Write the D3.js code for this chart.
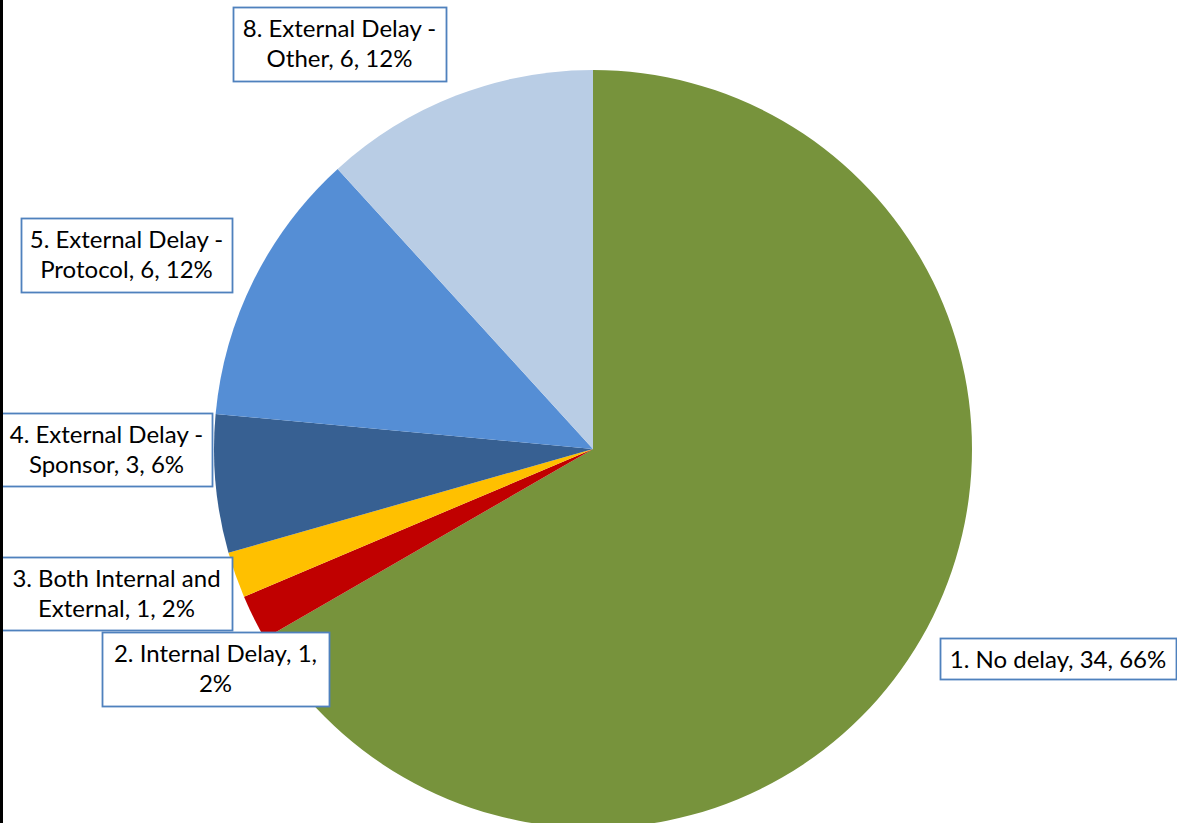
<!DOCTYPE html>
<html>
<head>
<meta charset="utf-8">
<script src="https://cdn.jsdelivr.net/npm/d3@7"></script>
<style>
  html, body { margin: 0; padding: 0; background: #fff; overflow: hidden; }
  svg { display: block; }
</style>
</head>
<body>
<div id="chart_area"></div>
<script>
// data
var categories = ["1. No delay", "2. Internal Delay", "3. Both Internal and External",
    "4. External Delay - Sponsor", "5. External Delay - Protocol", "8. External Delay - Other"];
var counts = [34, 1, 1, 3, 6, 6];
var percentLabels = ["66%", "2%", "2%", "6%", "12%", "12%"];
// label text lines as Excel wrapped them
var labelLines = [
    ["1. No delay, 34, 66%"],
    ["2. Internal Delay, 1,", "2%"],
    ["3. Both Internal and", "External, 1, 2%"],
    ["4. External Delay -", "Sponsor, 3, 6%"],
    ["5. External Delay -", "Protocol, 6, 12%"],
    ["8. External Delay -", "Other, 6, 12%"]
];
var sliceColors = ["#77933C", "#C00000", "#FFC000", "#376092", "#558ED5", "#B9CDE5"];

var width = 1177, height = 823;
var cx = 593, cy = 449, radius = 379;

// label box placement [left, top, width, height]
var boxes = [
    [940, 638, 236, 41],
    [102, 632, 227, 74],
    [1, 557, 231, 73],
    [1, 413, 211, 73],
    [21, 218, 211, 74],
    [233, 7, 213, 74]
];

var svg = d3.select("#chart_area")
    .append("svg")
    .attr("width", width)
    .attr("height", height);

var pie = d3.pie().sort(null).value(function (d) { return d; });
var arc = d3.arc().innerRadius(0).outerRadius(radius);

var table = categories.map(function (c, i) {
    return { name: c, count: counts[i], pct: percentLabels[i], lines: labelLines[i], box: boxes[i] };
});

svg.append("g")
    .attr("transform", "translate(" + cx + "," + cy + ")")
    .selectAll("path")
    .data(pie(counts))
    .enter().append("path")
    .attr("d", arc)
    .style("fill", function (d, i) { return sliceColors[i]; });

var labels = svg.append("g")
    .selectAll("g")
    .data(table)
    .enter().append("g");

labels.append("rect")
    .attr("x", function (d) { return d.box[0] + 0.5; })
    .attr("y", function (d) { return d.box[1] + 0.5; })
    .attr("width", function (d) { return d.box[2]; })
    .attr("height", function (d) { return d.box[3]; })
    .style("fill", "#fff")
    .style("stroke", "#4F81BD")
    .style("stroke-width", 1.8);

labels.each(function (d) {
    var g = d3.select(this);
    d.lines.forEach(function (line, j) {
        g.append("text")
            .attr("x", d.box[0] + d.box[2] / 2)
            .attr("y", d.box[1] + 30 + j * 30)
            .attr("text-anchor", "middle")
            .style("font-family", "Lato, 'Open Sans', sans-serif")
            .style("font-size", "24px")
            .style("fill", "#000")
            .text(line);
    });
});

// dark strip down the left edge
svg.append("rect")
    .attr("x", 0).attr("y", 0)
    .attr("width", 3).attr("height", height)
    .style("fill", "#000");
</script>
</body>
</html>
